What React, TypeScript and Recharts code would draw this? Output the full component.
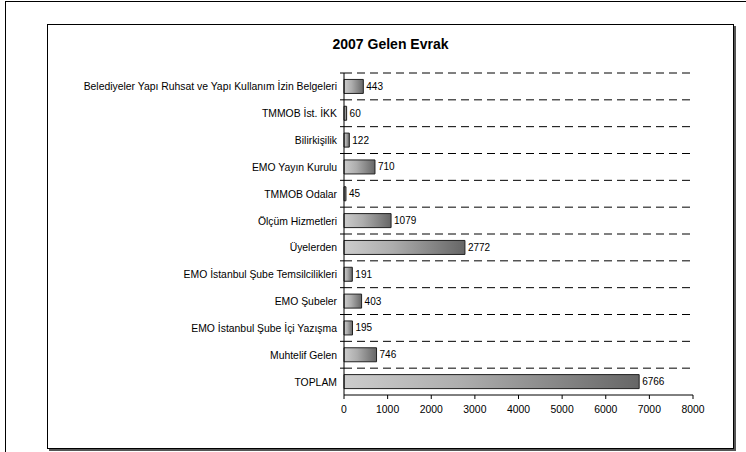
import React from "react";
import { BarChart, Bar, XAxis, YAxis, CartesianGrid, LabelList } from "recharts";

const categories = [
  "Belediyeler Yapı Ruhsat ve Yapı Kullanım İzin Belgeleri",
  "TMMOB İst. İKK",
  "Bilirkişilik",
  "EMO Yayın Kurulu",
  "TMMOB Odalar",
  "Ölçüm Hizmetleri",
  "Üyelerden",
  "EMO İstanbul Şube Temsilcilikleri",
  "EMO Şubeler",
  "EMO İstanbul Şube İçi Yazışma",
  "Muhtelif Gelen",
  "TOPLAM",
];
const values = [443, 60, 122, 710, 45, 1079, 2772, 191, 403, 195, 746, 6766];
const xTicks = [0, 1000, 2000, 3000, 4000, 5000, 6000, 7000, 8000];

const data = categories.map((name, i) => ({ name, value: values[i] }));

const FONT = "Liberation Sans, Arial, sans-serif";

// category tick: label at band centre, short tick mark at the band's upper boundary
const CatTick = (props: any) => {
  const { x, y, payload } = props;
  const band = 322 / categories.length;
  return (
    <g>
      <line x1={x + 4} x2={x + 8} y1={y - band / 2} y2={y - band / 2} stroke="#000" />
      <text x={x + 1} y={y} dy={4} textAnchor="end" fontSize={10.4} fontFamily={FONT} fill="#000">
        {payload.value}
      </text>
    </g>
  );
};

export default function App() {
  return (
    <div style={{ position: "absolute", left: 0, top: 0, width: 746, height: 452, background: "#fff", overflow: "hidden" }}>
      <div style={{ position: "absolute", left: 5, top: 1, width: 760, height: 470, borderLeft: "1px solid #000", borderTop: "1px solid #000" }} />
      <div
        style={{
          position: "absolute",
          left: 47,
          top: 24,
          width: 685,
          height: 423,
          border: "1px solid #000",
          boxShadow: "2px 2px 0 #555",
        }}
      />
      <div
        style={{
          position: "absolute",
          left: 47,
          top: 36,
          width: 687,
          textAlign: "center",
          fontFamily: FONT,
          fontWeight: "bold",
          fontSize: 14,
        }}
      >
        2007 Gelen Evrak
      </div>
      <div style={{ position: "absolute", left: 0, top: 0 }}>
        <BarChart
          width={746}
          height={452}
          data={data}
          layout="vertical"
          margin={{ top: 73, right: 53, bottom: 27, left: 0 }}
          barCategoryGap="24%"
        >
          <defs>
            <linearGradient id="barGrad" x1="0" y1="0" x2="1" y2="0">
              <stop offset="0%" stopColor="#cccccc" />
              <stop offset="40%" stopColor="#adadad" />
              <stop offset="100%" stopColor="#666666" />
            </linearGradient>
          </defs>
          <CartesianGrid
            vertical={false}
            stroke="#000"
            strokeDasharray="8 5"
            horizontalCoordinatesGenerator={({ offset }: any) =>
              categories.map((_, i) => offset.top + (i * offset.height) / categories.length)
            }
          />
          <XAxis
            type="number"
            domain={[0, 8000]}
            ticks={xTicks}
            interval={0}
            height={30}
            axisLine={{ stroke: "#000" }}
            tickLine={{ stroke: "#000" }}
            tickSize={4}
            tickMargin={7}
            tick={{ fontSize: 10.4, fontFamily: FONT, fill: "#000" }}
          />
          <YAxis
            type="category"
            dataKey="name"
            width={344}
            interval={0}
            axisLine={{ stroke: "#000" }}
            tickLine={false}
            tick={<CatTick />}
          />
          <Bar dataKey="value" fill="url(#barGrad)" stroke="#222" strokeWidth={1} isAnimationActive={false}>
            <LabelList dataKey="value" position="right" offset={3} fontSize={10} fontFamily={FONT} fill="#000" />
          </Bar>
        </BarChart>
      </div>
    </div>
  );
}
